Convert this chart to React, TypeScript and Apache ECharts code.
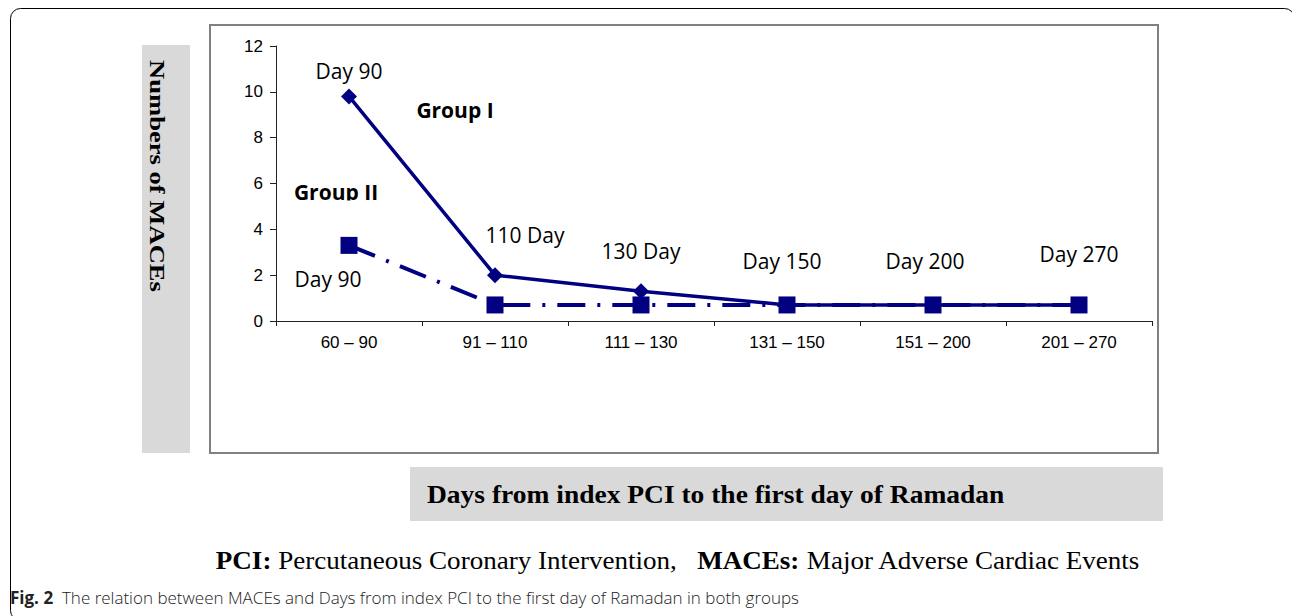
import React, { useEffect, useRef } from "react";
import * as echarts from "echarts";

const categories = ["60 – 90", "91 – 110", "111 – 130", "131 – 150", "151 – 200", "201 – 270"];
const groupI = [9.8, 2.0, 1.3, 0.7, 0.7, 0.7];
const groupII = [3.3, 0.7, 0.7, 0.7, 0.7, 0.7];
const groupILabels = ["Day 90", "110 Day", "130 Day", "Day 150", "Day 200", "Day 270"];
const groupIILabels = ["Day 90", "", "", "", "", ""];
const yTicks = { min: 0, max: 12, interval: 2 };

const NAVY = "#000080";
const LABEL_FONT = "'Open Sans', 'Noto Sans', sans-serif";

const g1Offsets: [number, number][] = [[0, -25], [30, -40], [0, -40], [-5, -44], [-8, -44], [0, -51]];
const g2Offsets: [number, number][] = [[-21, 34], [0, 0], [0, 0], [0, 0], [0, 0], [0, 0]];

export default function App() {
  const ref = useRef<HTMLDivElement>(null);
  useEffect(() => {
    if (!ref.current) return;
    const chart = echarts.init(ref.current, null, { renderer: "svg" });
    const mkData = (vals: number[], labels: string[], offs: [number, number][]) =>
      vals.map((v, i) => ({
        value: v,
        label: {
          show: labels[i] !== "",
          formatter: labels[i],
          position: "inside",
          offset: offs[i],
          fontFamily: LABEL_FONT,
          fontSize: 21,
          color: "#000",
        },
      }));
    chart.setOption({
      animation: false,
      backgroundColor: "#fff",
      grid: { left: 276, right: 140, top: 46, bottom: 295, containLabel: false },
      xAxis: {
        type: "category",
        data: categories,
        boundaryGap: true,
        axisLine: { lineStyle: { color: "#222", width: 1 } },
        axisTick: { show: true, length: 5, alignWithLabel: false, lineStyle: { color: "#222" } },
        axisLabel: { margin: 13, fontFamily: "'Liberation Sans', Arial, sans-serif", fontSize: 17, color: "#000" },
        splitLine: { show: false },
      },
      yAxis: {
        type: "value",
        min: yTicks.min,
        max: yTicks.max,
        interval: yTicks.interval,
        axisLine: { show: true, lineStyle: { color: "#222", width: 1 } },
        axisTick: { show: true, length: 6, lineStyle: { color: "#222" } },
        axisLabel: { margin: 13, fontFamily: "'Liberation Sans', Arial, sans-serif", fontSize: 17, color: "#000" },
        splitLine: { show: false },
      },
      series: [
        {
          name: "Group I",
          type: "line",
          data: mkData(groupI, groupILabels, g1Offsets),
          symbol: "diamond",
          symbolSize: 16,
          lineStyle: { color: NAVY, width: 3.5 },
          itemStyle: { color: NAVY },
          z: 2,
        },
        {
          name: "Group II",
          type: "line",
          data: mkData(groupII, groupIILabels, g2Offsets),
          symbol: "rect",
          symbolSize: 17,
          lineStyle: { color: NAVY, width: 4, type: [28, 12, 3, 12], cap: "butt" },
          itemStyle: { color: NAVY },
          z: 3,
        },
      ],
      graphic: [
        { type: "rect", z: -10, shape: { x: 10.5, y: 8.5, width: 1284, height: 612, r: 10 }, style: { fill: "none", stroke: "#000", lineWidth: 1 } },
        { type: "rect", z: -9, shape: { x: 142, y: 45, width: 48, height: 408 }, style: { fill: "#d9d9d9" } },
        { type: "rect", z: -9, shape: { x: 210, y: 25, width: 948, height: 428 }, style: { fill: "none", stroke: "#808080", lineWidth: 2 } },
        { type: "rect", z: -9, shape: { x: 410, y: 467, width: 753, height: 54 }, style: { fill: "#d9d9d9" } },
        {
          type: "text", x: 157, y: 176, rotation: -Math.PI / 2, scaleX: 1.33,
          style: { text: "Numbers of MACEs", font: "bold 20px 'Liberation Serif', 'Times New Roman', serif", fill: "#000", align: "center", verticalAlign: "middle" },
        },
        {
          type: "text", x: 427, y: 494, scaleX: 1.057,
          style: { text: "Days from index PCI to the first day of Ramadan", font: "bold 26px 'Liberation Serif', 'Times New Roman', serif", fill: "#000", align: "left", verticalAlign: "middle" },
        },
        {
          type: "text", x: 455, y: 110,
          style: { text: "Group I", font: `bold 21px ${LABEL_FONT}`, fill: "#000", align: "center", verticalAlign: "middle" },
        },
        {
          type: "text", x: 336, y: 192,
          style: { text: "Group II", font: `bold 21px ${LABEL_FONT}`, fill: "#000", align: "center", verticalAlign: "middle" },
        },
        { type: "rect", z: 10, shape: { x: 288, y: 200.5, width: 100, height: 8 }, style: { fill: "#fff" } },
        {
          type: "text", x: 678, y: 560, scaleX: 1.04,
          style: {
            text: "{b|PCI:} Percutaneous Coronary Intervention,   {b|MACEs:} Major Adverse Cardiac Events",
            font: "26px 'Liberation Serif', 'Times New Roman', serif",
            fill: "#000", align: "center", verticalAlign: "middle",
            rich: { b: { fontWeight: "bold", fontSize: 26, fontFamily: "'Liberation Serif', 'Times New Roman', serif" } },
          },
        },
        {
          type: "text", x: 10, y: 597,
          style: {
            text: "{b|Fig. 2}  The relation between MACEs and Days from index PCI to the first day of Ramadan in both groups",
            font: "300 17px 'Open Sans', sans-serif",
            fill: "#222", align: "left", verticalAlign: "middle",
            rich: { b: { fontWeight: "bold", fontSize: 17, fontFamily: "'Open Sans', sans-serif", fill: "#222" } },
          },
        },
      ],
    });
    return () => chart.dispose();
  }, []);
  return <div ref={ref} style={{ position: "absolute", left: 0, top: 0, width: 1292, height: 616 }} />;
}
